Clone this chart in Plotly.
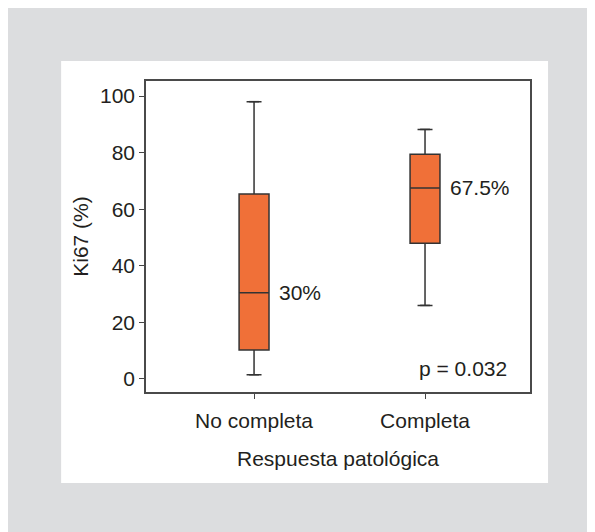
import plotly.graph_objects as go

categories = ["No completa", "Completa"]
lower_whisker = [1.5, 26.0]
q1_vals = [10.2, 48.0]
median_vals = [30.5, 67.5]
q3_vals = [65.4, 79.4]
upper_whisker = [98.0, 88.2]
median_labels = ["30%", "67.5%"]
p_text = "p = 0.032"
y_ticks = [0, 20, 40, 60, 80, 100]

FONT = "Liberation Sans, Arial, Helvetica, sans-serif"
TXT = "#231f20"
ORANGE = "#f07038"
FS = 21

fig = go.Figure()
fig.add_trace(go.Box(
    x=categories, q1=q1_vals, median=median_vals, q3=q3_vals,
    lowerfence=lower_whisker, upperfence=upper_whisker,
    fillcolor=ORANGE, line=dict(color="#333333", width=1.5),
    width=0.175, boxpoints=False, hoverinfo="skip", showlegend=False,
))
# whisker caps
fig.add_trace(go.Scatter(
    x=categories + categories, y=lower_whisker + upper_whisker,
    mode="markers", marker=dict(symbol="line-ew", size=7,
                                line=dict(color="#333333", width=1.5)),
    hoverinfo="skip", showlegend=False,
))

for cat, med, lab in zip(categories, median_vals, median_labels):
    fig.add_annotation(x=cat, y=med, text=lab, showarrow=False,
                       xanchor="left", yanchor="middle", xshift=23,
                       font=dict(family=FONT, size=FS, color=TXT))

fig.add_annotation(xref="paper", yref="paper", x=0.945, y=0.077, text=p_text,
                   showarrow=False, xanchor="right", yanchor="middle",
                   font=dict(family=FONT, size=FS, color=TXT))

# white panel on grey page
fig.add_shape(type="rect", xref="paper", yref="paper", layer="below",
              x0=-0.221, x1=1.047, y0=-0.293, y1=1.064,
              fillcolor="white", line=dict(width=0))

fig.update_layout(
    width=595, height=532,
    margin=dict(l=138, r=73, t=73, b=148),
    paper_bgcolor="#dcdddf", plot_bgcolor="rgba(0,0,0,0)",
    font=dict(family=FONT, size=FS, color=TXT),
    xaxis=dict(
        type="category", range=[-0.632, 1.614],
        showline=True, mirror=True, linecolor="#4a4a4a", linewidth=1.5,
        showgrid=False, zeroline=False,
        ticks="outside", ticklen=5, tickwidth=1.2, tickcolor="#444444",
        ticklabelstandoff=4,
        tickfont=dict(family=FONT, size=FS, color=TXT),
        title=dict(text="Respuesta patológica", standoff=20,
                   font=dict(family=FONT, size=FS, color=TXT)),
    ),
    yaxis=dict(
        range=[-4.6, 105.3], tickvals=y_ticks,
        showline=True, mirror=True, linecolor="#4a4a4a", linewidth=1.5,
        showgrid=False, zeroline=False,
        ticks="outside", ticklen=5, tickwidth=1.2, tickcolor="#444444",
        tickfont=dict(family=FONT, size=FS, color=TXT),
        title=dict(text="Ki67 (%)", standoff=6,
                   font=dict(family=FONT, size=FS, color=TXT)),
    ),
)

fig.write_html("out.html")
